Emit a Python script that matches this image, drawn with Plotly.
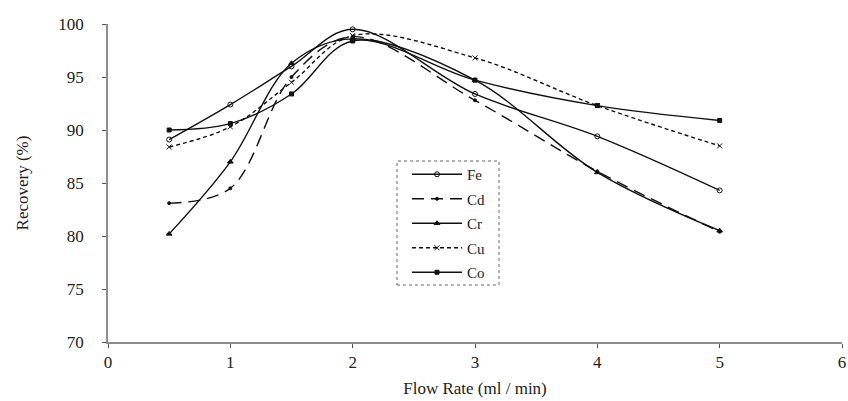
import plotly.graph_objects as go

flow_rate = [0.5, 1, 1.5, 2, 3, 4, 5]
fe = [89.1, 92.4, 96.0, 99.5, 93.4, 89.4, 84.3]
cd = [83.1, 84.5, 95.0, 98.8, 92.8, 86.1, 80.4]
cr = [80.2, 87.0, 96.3, 98.6, 94.7, 86.0, 80.5]
cu = [88.4, 90.3, 94.5, 98.9, 96.8, 92.3, 88.5]
co = [90.0, 90.6, 93.4, 98.4, 94.7, 92.3, 90.9]

x_ticks = [0, 1, 2, 3, 4, 5, 6]
y_ticks = [70, 75, 80, 85, 90, 95, 100]

series = [
    ("Fe", fe, "solid", "circle-open", 5),
    ("Cd", cd, "12px,7px", "circle", 3),
    ("Cr", cr, "solid", "triangle-up", 5),
    ("Cu", cu, "4px,3px", "x-thin-open", 5),
    ("Co", co, "solid", "square", 4),
]

fig = go.Figure()
for name, vals, dash, sym, ms in series:
    fig.add_trace(go.Scatter(
        x=flow_rate, y=vals, name=name, mode="lines+markers",
        line=dict(color="#111111", width=1.4, dash=dash, shape="spline", smoothing=1.0),
        marker=dict(symbol=sym, size=ms, color="#111111", line=dict(color="#111111", width=1)),
        legendgroup=name,
    ))

font_family = "Liberation Serif, Times New Roman, serif"

W, H = 848, 401
L, T = 108, 24
PW, PH = 734, 318
R = W - L - PW
B = H - T - PH

def px_x(p):
    return (p - L) / PW

def px_y(p):
    return 1 - (p - T) / PH

fig.update_layout(
    width=W, height=H,
    margin=dict(l=L, r=R, t=T, b=B),
    paper_bgcolor="white", plot_bgcolor="white",
    font=dict(family=font_family, size=17, color="#222222"),
    showlegend=True,
    legend=dict(
        x=px_x(407), y=px_y(158), xanchor="left", yanchor="top",
        bgcolor="rgba(0,0,0,0)", borderwidth=0, itemwidth=50,
        tracegroupgap=2, font=dict(family=font_family, size=15, color="#222222"),
    ),
    shapes=[dict(
        type="rect", xref="paper", yref="paper",
        x0=px_x(397), x1=px_x(499),
        y0=px_y(285), y1=px_y(161),
        line=dict(color="#666666", width=1, dash="dot"),
    )],
)

fig.update_xaxes(
    range=[0, 6], tickvals=x_ticks, ticktext=[str(t) for t in x_ticks],
    showgrid=False, zeroline=False, showline=True, linecolor="#8c8c8c", linewidth=1.5,
    ticks="outside", ticklen=4, tickcolor="#555555", automargin=False,
    tickfont=dict(size=17),
    title=dict(text="Flow Rate (ml / min)", standoff=11, font=dict(size=17)),
)
fig.update_yaxes(
    range=[70, 100], tickvals=y_ticks, ticktext=[str(t) for t in y_ticks],
    showgrid=False, zeroline=False, showline=True, linecolor="#8c8c8c", linewidth=1.5,
    ticks="outside", ticklen=4, tickcolor="#555555", ticklabelstandoff=15, automargin=False,
    tickfont=dict(size=17),
    title=dict(text="Recovery (%)", standoff=25, font=dict(size=17)),
)

fig.write_html(
    "out.html",
    config={"displayModeBar": False},
    post_script="document.body.style.margin='0';document.body.style.overflow='hidden';",
)
